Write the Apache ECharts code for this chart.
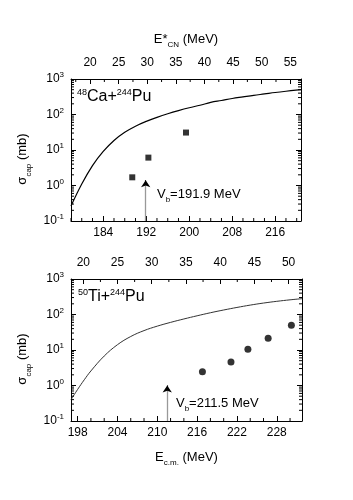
<!DOCTYPE html>
<html>
<head>
<meta charset="utf-8">
<script src="https://cdn.jsdelivr.net/npm/echarts@6/dist/echarts.min.js"></script>
<style>
  html, body { margin: 0; background: #fff; }
  #chart { width: 353px; height: 500px; }
</style>
</head>
<body>
<div id="chart"></div>
<script>
// upper panel: 48Ca + 244Pu
const caCurveE = [178, 180, 182, 184, 186, 188, 190, 192, 194, 196, 198, 200, 202, 204, 206, 208, 210, 212, 214, 216, 218, 220.8]
const caCurveSig = [0.263, 1.10, 3.63, 9.12, 18.6, 31.6, 46.8, 64.0, 83.2, 105, 129, 155, 182, 219, 248, 282, 313, 347, 380, 417, 452, 501]
const caExpE = [189.4, 192.4, 199.4]
const caExpSig = [1.7, 6.1, 31]
const caVb = 191.9

// lower panel: 50Ti + 244Pu
const tiCurveE = [197, 198, 199, 200, 202, 204, 206, 208, 210, 212, 214, 216, 218, 220, 222, 224, 226, 228, 230, 231.8]
const tiCurveSig = [0.398, 0.776, 1.45, 2.57, 6.76, 14.1, 24.0, 35.2, 47.0, 60.0, 74.8, 92.0, 112, 134, 158, 184, 210, 235, 259, 279]
const tiExpE = [216.8, 221.1, 223.65, 226.7, 230.2]
const tiExpSig = [2.45, 4.6, 10.5, 21.4, 50]
const tiVb = 211.5

// tick values
const caEcmTicks = [184, 192, 200, 208, 216]
const caEcmMinor = [178, 180, 182, 186, 188, 190, 194, 196, 198, 202, 204, 206, 210, 212, 214, 218, 220]
const caEstarTicks = [20, 25, 30, 35, 40, 45, 50, 55]
const caEstarMinor = [17.5, 22.5, 27.5, 32.5, 37.5, 42.5, 47.5, 52.5]
const tiEcmTicks = [198, 204, 210, 216, 222, 228]
const tiEcmMinor = [200, 202, 206, 208, 212, 214, 218, 220, 224, 226, 230]
const tiEstarTicks = [20, 25, 30, 35, 40, 45, 50]
const tiEstarMinor = [22.5, 27.5, 32.5, 37.5, 42.5, 47.5]
const sigTicks = [0.1, 1, 10, 100, 1000]
const sigMinor = []
for (const d of [0.1, 1, 10, 100]) {
  for (let k = 2; k <= 9; k++) sigMinor.push(+(d * k).toPrecision(3))
}

const FONT = 'Liberation Sans, Arial, sans-serif'
const TICK = '#000'
const chart = echarts.init(document.getElementById('chart'), null, { renderer: 'canvas' })

const lbl = { color: '#000', fontFamily: FONT, fontSize: 12 }
const tickStyle = { show: true, inside: true, length: 5, lineStyle: { color: TICK, width: 1 } }
const lineStyle = { show: true, lineStyle: { color: '#000', width: 1 } }
const nameRich = {
  n: { fontFamily: FONT, fontSize: 13, color: '#000', lineHeight: 20 },
  s: { fontFamily: FONT, fontSize: 8, color: '#000', verticalAlign: 'bottom', lineHeight: 10 }
}

function ecmAxis(grid, min, max, ticks, name) {
  return {
    type: 'value', gridIndex: grid, position: 'bottom', min: min, max: max,
    axisLine: lineStyle, splitLine: { show: false },
    axisTick: Object.assign({ customValues: ticks }, tickStyle),
    axisLabel: Object.assign({ customValues: ticks, margin: 6 }, lbl),
    name: name, nameLocation: 'middle', nameGap: 26,
    nameTextStyle: { rich: nameRich }
  }
}
function estarAxis(grid, min, max, ticks, name) {
  return {
    type: 'value', gridIndex: grid, position: 'top', min: min, max: max,
    axisLine: lineStyle, splitLine: { show: false },
    axisTick: Object.assign({ customValues: ticks }, tickStyle),
    axisLabel: Object.assign({ customValues: ticks, margin: 10 }, lbl),
    name: name, nameLocation: 'middle', nameGap: 30,
    nameTextStyle: { rich: nameRich }
  }
}
function sigAxis(grid, right) {
  return {
    type: 'log', logBase: 10, gridIndex: grid, position: right ? 'right' : 'left',
    min: 0.1, max: 1000,
    axisLine: lineStyle, splitLine: { show: false },
    axisTick: Object.assign({ customValues: sigTicks }, tickStyle),
    axisLabel: right ? { show: false } : {
      show: true, customValues: sigTicks, margin: 7,
      formatter: function (v) {
        return '{b|10}{e|' + Math.round(Math.log10(v)) + '}'
      },
      rich: {
        b: { fontFamily: FONT, fontSize: 12, color: '#000', lineHeight: 16 },
        e: { fontFamily: FONT, fontSize: 8, color: '#000', verticalAlign: 'top', lineHeight: 10 }
      }
    },
    name: right ? '' : '{n|σ}{s|cap}{n| (mb)}',
    nameLocation: 'middle', nameGap: 36, nameRotate: 90,
    nameTextStyle: { padding: [0, 18, 0, 0], rich: nameRich }
  }
}

// small inward ticks: x minors on one horizontal edge, log minors on both vertical edges
function minorTicks(xIdx, yIdx, xMinor, onTop, withY) {
  return {
    type: 'custom', xAxisIndex: xIdx, yAxisIndex: yIdx, silent: true, z: 5,
    clip: false,
    data: [[xMinor[1], 10]],
    renderItem: function (params, api) {
      const ch = []
      const seg = (x1, y1, x2, y2) => ch.push({
        type: 'line', shape: { x1: x1, y1: y1, x2: x2, y2: y2 },
        style: { stroke: TICK, lineWidth: 1 }
      })
      const yEdge = onTop ? 1000 : 0.1
      xMinor.forEach(v => {
        const p = api.coord([v, yEdge])
        seg(p[0], p[1], p[0], p[1] + (onTop ? 3 : -3))
      })
      if (withY) {
        const cs = params.coordSys
        sigMinor.forEach(v => {
          const p = api.coord([xMinor[1], v])
          seg(cs.x, p[1], cs.x + 3, p[1])
          seg(cs.x + cs.width, p[1], cs.x + cs.width - 3, p[1])
        })
      }
      return { type: 'group', children: ch }
    }
  }
}

// gray shaft from the axis up to the tip, short black piece carrying the head
function arrow(vb, tip) {
  return {
    silent: true, symbol: ['none', 'arrow'], symbolSize: 7,
    label: { show: false },
    lineStyle: { color: '#999', type: 'solid', width: 1.3 },
    data: [
      [{ coord: [vb, 0.1], symbol: 'none' }, { coord: [vb, tip], symbol: 'none' }],
      [{ coord: [vb, tip * 0.8], lineStyle: { color: '#000', width: 1 } }, { coord: [vb, tip] }]
    ]
  }
}

const pair = (xs, ys) => xs.map((x, i) => [x, ys[i]])

const textRich = {
  n: { fontFamily: FONT, fontSize: 16, fill: '#000', lineHeight: 18 },
  s: { fontFamily: FONT, fontSize: 9, fill: '#000', verticalAlign: 'top', lineHeight: 10 }
}
const vbRich = {
  n: { fontFamily: FONT, fontSize: 13, fill: '#000', lineHeight: 18 },
  s: { fontFamily: FONT, fontSize: 8, fill: '#000', verticalAlign: 'bottom', lineHeight: 10 }
}

const option = {
  backgroundColor: '#fff',
  animation: false,
  grid: [
    { left: 71, top: 79, width: 230, height: 142 },
    { left: 71, top: 279, width: 231, height: 142 }
  ],
  xAxis: [
    ecmAxis(0, 178, 220.8, caEcmTicks, ''),
    estarAxis(0, 16.67, 56.87, caEstarTicks, '{n|E*}{s|CN}{n| (MeV)}'),
    ecmAxis(1, 197, 231.8, tiEcmTicks, '{n|E}{s|c.m.}{n| (MeV)}'),
    estarAxis(1, 18.2, 51.96, tiEstarTicks, '')
  ],
  yAxis: [sigAxis(0, false), sigAxis(0, true), sigAxis(1, false), sigAxis(1, true)],
  series: [
    {
      type: 'line', xAxisIndex: 0, yAxisIndex: 0, data: pair(caCurveE, caCurveSig),
      smooth: 0.4, showSymbol: false,
      lineStyle: { color: '#000', width: 1.2 }, z: 2
    },
    {
      type: 'scatter', xAxisIndex: 0, yAxisIndex: 0, data: pair(caExpE, caExpSig),
      symbol: 'rect', symbolSize: 6, itemStyle: { color: '#000' },
      markLine: arrow(caVb, 1.4)
    },
    minorTicks(0, 0, caEcmMinor, false, true),
    minorTicks(1, 0, caEstarMinor, true, false),
    {
      type: 'line', xAxisIndex: 2, yAxisIndex: 2, data: pair(tiCurveE, tiCurveSig),
      smooth: 0.4, showSymbol: false,
      lineStyle: { color: '#333', width: 1 }, z: 2
    },
    {
      type: 'scatter', xAxisIndex: 2, yAxisIndex: 2, data: pair(tiExpE, tiExpSig),
      symbol: 'circle', symbolSize: 7, itemStyle: { color: '#000' },
      markLine: arrow(tiVb, 1.0)
    },
    minorTicks(2, 2, tiEcmMinor, false, true),
    minorTicks(3, 2, tiEstarMinor, true, false)
  ],
  graphic: [
    { type: 'text', left: 77, top: 88, style: { text: '{s|48}{n|Ca+}{s|244}{n|Pu}', rich: textRich } },
    { type: 'text', left: 78, top: 288, style: { text: '{s|50}{n|Ti+}{s|244}{n|Pu}', rich: textRich } },
    { type: 'text', left: 157, top: 188, style: { text: '{n|V}{s|b}{n|=' + caVb + ' MeV}', rich: vbRich } },
    { type: 'text', left: 176, top: 397, style: { text: '{n|V}{s|b}{n|=' + tiVb + ' MeV}', rich: vbRich } }
  ]
}
chart.setOption(option)
</script>
</body>
</html>
